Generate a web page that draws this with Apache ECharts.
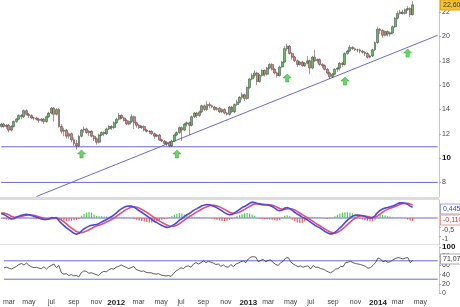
<!DOCTYPE html>
<html><head><meta charset="utf-8">
<script src="https://cdn.jsdelivr.net/npm/echarts@6/dist/echarts.min.js"></script>
<style>html,body{margin:0;padding:0;background:#fff}#c{width:460px;height:307px}</style>
</head><body><div id="c"></div>
<script>
const firstWeek = '2011-02-21';
const weekCount = 175;
const monthNames = ['jan','feb','mar','apr','may','jun','jul','aug','sep','oct','nov','dec'];

// weekly candles: [open, close, low, high]
const candles = [
[12.6,12.8,12.5,12.9],[12.8,12.6,12.5,12.9],[12.6,12.7,12.4,12.8],[12.7,12.3,12.1,12.8],[12.3,12.6,12.2,12.7],[12.6,13.0,12.5,13.1],[13.0,13.2,12.9,13.3],[13.2,13.5,13.1,13.6],[13.5,13.4,13.2,13.6],[13.4,13.9,13.3,14.0],
[13.9,13.6,13.5,14.0],[13.6,13.5,13.3,13.7],[13.5,13.3,13.2,13.6],[13.3,13.3,13.1,13.4],[13.3,13.2,13.1,13.4],[13.2,13.1,12.9,13.3],[13.1,13.2,13.0,13.3],[13.2,13.0,12.8,13.3],[13.0,13.4,12.9,13.5],[13.4,13.7,13.3,13.8],
[13.7,14.1,13.6,14.2],[14.1,13.6,13.0,14.2],[13.6,14.0,13.5,14.1],[14.0,12.6,12.5,14.1],[12.6,12.2,12.0,12.8],[12.2,12.3,11.8,12.5],[12.3,11.8,11.6,12.4],[11.8,12.0,11.6,12.1],[12.0,11.5,11.3,12.1],[11.5,11.2,11.0,11.7],
[11.2,11.0,10.7,11.5],[11.0,11.8,10.9,11.9],[11.8,12.3,11.7,12.4],[12.3,12.4,12.1,12.6],[12.4,12.1,12.0,12.5],[12.1,12.2,11.8,12.3],[12.2,11.8,11.7,12.3],[11.8,11.6,11.4,11.9],[11.6,11.3,11.1,11.7],[11.3,11.9,11.2,12.0],
[11.9,12.1,11.8,12.2],[12.1,12.0,11.8,12.2],[12.0,12.4,11.9,12.5],[12.4,12.6,12.3,12.7],[12.6,12.5,12.3,12.7],[12.5,12.9,12.4,13.0],[12.9,13.2,12.8,13.3],[13.2,13.5,13.1,13.7],[13.5,13.3,13.2,13.6],[13.3,13.1,13.0,13.4],
[13.1,12.8,12.7,13.2],[12.8,13.0,12.7,13.1],[13.0,13.4,12.9,13.6],[13.4,12.9,12.4,13.5],[12.9,12.7,12.5,13.0],[12.7,12.5,12.4,12.8],[12.5,12.6,12.4,12.7],[12.6,12.3,12.2,12.7],[12.3,12.2,12.1,12.4],[12.2,12.2,12.0,12.3],
[12.2,12.0,11.9,12.3],[12.0,11.8,11.6,12.1],[11.8,11.9,11.7,12.0],[11.9,11.5,11.4,12.0],[11.5,11.4,11.3,11.6],[11.4,11.2,11.1,11.5],[11.2,11.3,11.0,11.4],[11.3,11.0,10.9,11.4],[11.0,11.4,10.9,11.5],[11.4,11.9,11.3,12.0],
[11.9,12.1,11.8,12.2],[12.1,12.5,12.0,12.6],[12.5,12.3,11.4,12.6],[12.3,12.8,12.2,12.9],[12.8,12.9,12.6,13.0],[12.9,12.7,11.9,13.0],[12.7,13.4,12.6,13.5],[13.4,13.7,13.3,13.8],[13.7,13.5,13.3,13.8],[13.5,13.8,13.4,13.9],
[13.8,14.3,13.7,14.4],[14.3,14.0,13.9,14.4],[14.0,14.4,13.9,14.7],[14.4,14.3,14.1,14.6],[14.3,14.2,14.1,14.4],[14.2,14.0,13.9,14.3],[14.0,14.1,13.9,14.2],[14.1,13.8,13.7,14.2],[13.8,14.0,13.7,14.1],[14.0,13.7,13.6,14.1],
[13.7,13.6,13.5,13.8],[13.6,14.2,13.5,14.3],[14.2,13.8,13.7,14.3],[13.8,14.4,13.7,14.5],[14.4,14.6,14.3,14.8],[14.6,15.0,14.5,15.1],[15.0,15.2,14.8,15.4],[15.2,14.9,14.7,15.3],[14.9,15.8,14.8,15.9],[15.8,16.5,15.7,16.6],
[16.5,16.8,16.4,17.0],[16.8,17.0,16.6,17.2],[17.0,16.3,16.0,17.1],[16.3,16.8,16.2,16.9],[16.8,17.2,16.7,17.3],[17.2,16.9,16.7,17.3],[16.9,17.4,16.8,17.5],[17.4,17.7,17.3,17.8],[17.7,17.3,17.2,17.8],[17.3,17.0,16.9,17.4],
[17.0,16.8,16.6,17.1],[16.8,17.5,16.7,17.6],[17.5,17.9,17.4,18.0],[17.9,19.0,17.8,19.2],[19.0,19.2,18.8,19.4],[19.2,18.6,18.5,19.3],[18.6,18.3,18.1,18.7],[18.3,18.0,17.9,18.4],[18.0,17.7,17.5,18.1],[17.7,17.9,17.6,18.0],
[17.9,17.6,17.5,18.0],[17.6,17.8,17.5,17.9],[17.8,18.0,17.7,18.4],[18.0,17.4,16.9,18.1],[17.4,18.3,17.3,18.4],[18.3,18.0,17.9,18.9],[18.0,18.1,17.8,18.2],[18.1,17.7,17.6,18.2],[17.7,17.6,17.4,17.8],[17.6,17.3,17.2,17.7],
[17.3,17.0,16.9,17.4],[17.0,16.7,16.5,17.1],[16.7,16.9,16.6,17.0],[16.9,17.3,16.8,17.4],[17.3,17.4,17.1,17.5],[17.4,17.8,17.2,17.9],[17.8,17.7,17.5,17.9],[17.7,18.6,17.6,18.7],[18.6,18.8,18.5,18.9],[18.8,19.1,18.7,19.3],
[19.1,19.0,18.9,19.2],[19.0,18.9,18.8,19.1],[18.9,18.9,18.7,19.0],[18.9,18.8,18.6,19.0],[18.8,18.7,18.6,18.9],[18.7,18.6,18.4,18.8],[18.6,18.3,18.2,18.7],[18.3,18.4,18.2,18.5],[18.4,18.9,18.3,19.0],[18.9,19.5,18.8,19.6],
[19.5,20.6,19.4,20.8],[20.6,20.5,20.2,20.7],[20.5,20.1,19.9,20.6],[20.1,20.4,20.0,20.5],[20.4,20.2,20.0,20.5],[20.2,20.3,20.0,20.4],[20.3,20.8,20.2,20.9],[20.8,21.5,20.7,21.6],[21.5,21.9,21.4,22.1],[21.9,22.0,21.8,22.2],
[22.0,21.9,21.8,22.2],[21.9,22.2,21.8,22.3],[22.2,22.3,22.1,22.5],[22.3,21.8,21.6,22.4],[21.8,22.6,21.7,22.9]
];

const macd = [
0.25,0.2,0.12,0.02,-0.06,-0.04,0.04,0.1,0.15,0.18,
0.2,0.18,0.14,0.1,0.05,0.0,-0.05,-0.08,-0.08,-0.04,
0.02,0.0,0.02,-0.15,-0.3,-0.42,-0.55,-0.65,-0.75,-0.85,
-0.9,-0.85,-0.72,-0.6,-0.52,-0.45,-0.4,-0.38,-0.36,-0.3,
-0.22,-0.15,-0.08,0.0,0.08,0.18,0.3,0.42,0.52,0.6,
0.65,0.66,0.66,0.6,0.5,0.4,0.32,0.22,0.12,0.02,
-0.08,-0.18,-0.26,-0.34,-0.42,-0.48,-0.52,-0.5,-0.44,-0.35,
-0.25,-0.12,-0.04,0.08,0.18,0.25,0.35,0.45,0.52,0.6,
0.68,0.72,0.75,0.74,0.7,0.64,0.56,0.48,0.4,0.3,
0.22,0.18,0.2,0.28,0.38,0.48,0.58,0.64,0.72,0.82,
0.88,0.86,0.8,0.76,0.74,0.72,0.72,0.7,0.64,0.55,
0.45,0.4,0.44,0.55,0.58,0.52,0.42,0.32,0.22,0.14,
0.05,-0.02,-0.1,-0.2,-0.3,-0.4,-0.48,-0.55,-0.65,-0.74,
-0.82,-0.88,-0.88,-0.8,-0.68,-0.55,-0.42,-0.26,-0.12,0.0,
0.1,0.15,0.17,0.15,0.12,0.08,0.02,0.0,0.02,0.12,
0.3,0.42,0.5,0.55,0.58,0.62,0.66,0.72,0.8,0.84,
0.84,0.8,0.76,0.66,0.6
];

const signal = [
0.28,0.27,0.24,0.18,0.1,0.05,0.04,0.06,0.09,0.13,
0.16,0.18,0.17,0.15,0.11,0.07,0.03,-0.02,-0.05,-0.06,
-0.04,-0.02,0.0,-0.04,-0.12,-0.22,-0.33,-0.45,-0.56,-0.66,
-0.75,-0.8,-0.82,-0.78,-0.72,-0.65,-0.58,-0.5,-0.45,-0.4,
-0.35,-0.29,-0.22,-0.15,-0.08,0.0,0.1,0.2,0.3,0.4,
0.48,0.55,0.6,0.62,0.6,0.55,0.48,0.4,0.31,0.22,
0.12,0.02,-0.07,-0.16,-0.24,-0.32,-0.39,-0.44,-0.46,-0.45,
-0.4,-0.32,-0.22,-0.12,-0.02,0.08,0.16,0.25,0.34,0.42,
0.5,0.57,0.63,0.68,0.7,0.7,0.67,0.62,0.55,0.48,
0.4,0.32,0.27,0.25,0.28,0.33,0.4,0.48,0.56,0.64,
0.72,0.78,0.8,0.8,0.78,0.76,0.75,0.74,0.71,0.66,
0.6,0.53,0.48,0.48,0.51,0.52,0.5,0.45,0.37,0.28,
0.19,0.1,0.02,-0.07,-0.16,-0.26,-0.35,-0.43,-0.52,-0.61,
-0.69,-0.76,-0.82,-0.84,-0.8,-0.72,-0.62,-0.5,-0.37,-0.24,
-0.12,-0.02,0.06,0.11,0.12,0.11,0.08,0.05,0.03,0.05,
0.12,0.22,0.32,0.41,0.48,0.54,0.59,0.64,0.7,0.76,
0.8,0.82,0.82,0.78,0.72
];

const hist = [
-0.03,-0.05,-0.08,-0.1,-0.08,-0.04,0.02,0.04,0.05,0.05,
0.03,0.0,-0.02,-0.04,-0.05,-0.06,-0.06,-0.05,-0.03,0.02,
0.04,0.02,0.02,-0.08,-0.12,-0.15,-0.17,-0.16,-0.15,-0.13,
-0.1,-0.05,0.12,0.22,0.3,0.33,0.3,0.2,0.12,0.1,
0.1,0.09,0.08,0.07,0.07,0.06,0.06,0.06,0.05,0.04,
0.03,0.02,-0.02,-0.06,-0.1,-0.14,-0.17,-0.2,-0.22,-0.25,
-0.25,-0.23,-0.2,-0.15,-0.1,-0.06,-0.03,0.05,0.1,0.18,
0.24,0.28,0.25,0.2,0.15,0.1,0.08,0.06,0.05,0.05,
0.04,0.03,0.02,0.0,-0.03,-0.06,-0.1,-0.14,-0.16,-0.17,
-0.15,-0.1,-0.05,0.04,0.1,0.16,0.22,0.26,0.28,0.25,
0.2,0.12,-0.02,-0.04,-0.05,-0.06,-0.07,-0.08,-0.1,-0.13,
-0.15,-0.12,0.05,0.12,0.15,0.1,-0.1,-0.18,-0.25,-0.28,
-0.26,-0.2,-0.12,0.04,0.06,0.06,0.05,0.04,0.02,-0.02,
-0.04,-0.03,0.03,0.1,0.18,0.25,0.3,0.32,0.32,0.3,
0.25,0.18,0.1,-0.04,-0.08,-0.12,-0.16,-0.2,-0.18,-0.1,
0.1,0.16,0.17,0.14,0.1,0.08,0.06,0.05,0.04,0.03,
0.02,-0.02,-0.08,-0.14,-0.16
];

const rsi = [
55,56,54,52,55,58,62,64,61,65,
60,57,55,56,54,53,57,52,57,60,
63,55,60,44,41,42,38,40,37,38,
35,44,48,47,43,44,42,40,38,44,
47,46,50,53,52,56,58,61,58,56,
53,55,58,51,49,47,48,45,44,44,
42,41,42,39,38,37,38,36,42,48,
51,55,53,58,59,56,63,66,63,66,
70,66,69,67,65,62,63,58,61,57,
56,62,57,63,65,68,70,66,74,78,
79,78,68,71,73,68,71,72,66,62,
60,66,69,76,77,68,63,60,57,59,
56,58,59,52,60,56,56,53,52,49,
46,44,47,52,53,58,57,66,67,69,
66,64,63,62,60,58,54,55,60,66,
76,74,68,70,67,68,72,75,77,76,
74,76,77,66,71.07
];

const priceTicks = [8,10,12,14,16,18,20,22];
const macdTicks = [-1,-0.5];
const rsiTicks = [0,20,40,60,80,100];
const supportLevels = [10.93, 8.0];
const trendStartWeek = 14, trendStartValue = 6.84;
const trendEndWeek = 174, trendEndValue = 20.1;
const arrowWeeks = [32,70,114,137,162];
const arrowValues = [10.34,10.34,16.59,16.34,18.64];
const macdLevels = [0];
const rsiLevels = [70,30];
const lastPrice = '22,60', lastMacd = '0,445', lastHist = '-0,110', lastRsi = '71,07';

const categories = [];
const d0 = Date.parse(firstWeek + 'T00:00:00Z');
for (let i = 0; i < weekCount; i++) {
  categories.push(new Date(d0 + i * 7 * 86400000).toISOString().slice(0, 10));
}
function showLabel(idx) {
  const s = categories[idx];
  const day = +s.slice(8, 10), m = +s.slice(5, 7) - 1;
  return day <= 7 && m % 2 === 0;
}
function fmtLabel(value) {
  const m = +value.slice(5, 7) - 1;
  return m === 0 ? '{y|' + value.slice(0, 4) + '}' : monthNames[m];
}

const FONT = 'Liberation Sans';
const axisCol = '#c8c8c8';
const lineBlue = '#6a6ad2';
const grids = [
  {left: 0, right: 21, top: 0, height: 197},
  {left: 0, right: 21, top: 200, height: 45},
  {left: 0, right: 21, top: 247, height: 46}
];
function xAx(i, show) {
  return {
    type: 'category', gridIndex: i, data: categories, boundaryGap: true,
    axisLine: {show: false}, axisTick: {show: false}, splitLine: {show: false},
    axisLabel: show ? {
      interval: (idx) => showLabel(idx), formatter: fmtLabel,
      fontSize: 7, color: '#444', fontFamily: FONT, margin: 6,
      rich: {y: {fontSize: 8, fontWeight: 'bold', color: '#222', fontFamily: FONT}}
    } : {show: false}
  };
}
function yAx(i, min, max, ticks, boldVal, vAlign) {
  return {
    type: 'value', gridIndex: i, position: 'right', min: min, max: max,
    axisLine: {show: true, lineStyle: {color: axisCol}},
    axisTick: {show: true, length: 2, customValues: ticks, lineStyle: {color: '#aaa'}},
    splitLine: {show: false},
    axisLabel: {
      customValues: ticks, fontSize: 7, color: '#444', fontFamily: FONT, margin: 3,
      verticalAlign: vAlign || 'middle',
      formatter: (v) => v === boldVal ? '{b|' + v + '}' : String(v).replace('.', ','),
      rich: {b: {fontSize: 8, fontWeight: 'bold', color: '#111', fontFamily: FONT}}
    }
  };
}
function box(text, y, fill, bg, border) {
  return {
    type: 'text', x: 441, y: y, z: 100,
    style: {text: text, fill: fill, font: '7px ' + FONT, verticalAlign: 'middle',
      backgroundColor: bg, borderColor: border, borderWidth: 1, padding: [1, 2]}
  };
}
// a straight reference line between two [weekIndex, value] points, drawn through the axes
function refLine(i, p1, p2) {
  return {
    type: 'line', xAxisIndex: i, yAxisIndex: i, data: [p1, p2], showSymbol: false, silent: true,
    color: lineBlue, lineStyle: {color: lineBlue, width: 1, type: 'solid'}, z: 1
  };
}
const lastWeek = weekCount - 1;

const series = [];
supportLevels.forEach(v => series.push(refLine(0, [0, v], [lastWeek, v])));
series.push(refLine(0, [trendStartWeek, trendStartValue], [trendEndWeek, trendEndValue]));
series.push({
  type: 'candlestick', xAxisIndex: 0, yAxisIndex: 0, data: candles, barWidth: 2.4, z: 3,
  itemStyle: {color: '#5cbf5c', color0: '#dc8080', borderColor: '#3a3a3a', borderColor0: '#4a3030', borderWidth: 0.5}
});
series.push({
  type: 'scatter', xAxisIndex: 0, yAxisIndex: 0, z: 4,
  data: arrowWeeks.map((w, k) => [w, arrowValues[k]]),
  symbol: 'path://M5,0 L10,5 L7,5 L7,10 L3,10 L3,5 L0,5 Z', symbolSize: [8, 8],
  itemStyle: {color: '#44cc44', borderColor: '#229922', borderWidth: 0.6}
});
macdLevels.forEach(v => series.push(refLine(1, [0, v], [lastWeek, v])));
series.push({
  type: 'bar', xAxisIndex: 1, yAxisIndex: 1, data: hist, barWidth: 1.2, z: 3,
  itemStyle: {color: (p) => p.value >= 0 ? '#55c855' : '#e05a5a'}
});
series.push({
  type: 'line', xAxisIndex: 1, yAxisIndex: 1, data: signal, showSymbol: false, z: 4,
  lineStyle: {color: '#e0507a', width: 1.6}
});
series.push({
  type: 'line', xAxisIndex: 1, yAxisIndex: 1, data: macd, showSymbol: false, z: 4,
  lineStyle: {color: '#4a4ae0', width: 1.6}
});
rsiLevels.forEach(v => series.push(refLine(2, [0, v], [lastWeek, v])));
series.push({
  type: 'line', xAxisIndex: 2, yAxisIndex: 2, data: rsi, showSymbol: false, z: 4,
  lineStyle: {color: '#333', width: 0.8}
});

const chart = echarts.init(document.getElementById('c'), null, {renderer: 'canvas'});
chart.setOption({
  animation: false,
  backgroundColor: '#fff',
  grid: grids,
  xAxis: [xAx(0, false), xAx(1, false), xAx(2, true)],
  yAxis: [yAx(0, 6.8, 23, priceTicks, 10), yAx(1, -1.5, 1.0, macdTicks, null, 'top'), yAx(2, 0, 100, rsiTicks, 100)],
  series: series,
  graphic: [
    {type: 'rect', shape: {x: 0, y: 197, width: 439, height: 3}, style: {fill: '#dcdcdc'}},
    {type: 'rect', shape: {x: 0, y: 244, width: 439, height: 1}, style: {fill: '#e2e2e2'}},
    box(lastPrice, 5, '#333', '#f5c233', '#e0a800'),
    box(lastMacd, 209, '#3344cc', '#ffffff', '#9aa8e0'),
    box(lastHist, 220, '#cc3333', '#ffffff', '#e4a0a0'),
    box(lastRsi, 259, '#333', '#ffffff', '#aaaaaa')
  ]
});
</script>
</body></html>
